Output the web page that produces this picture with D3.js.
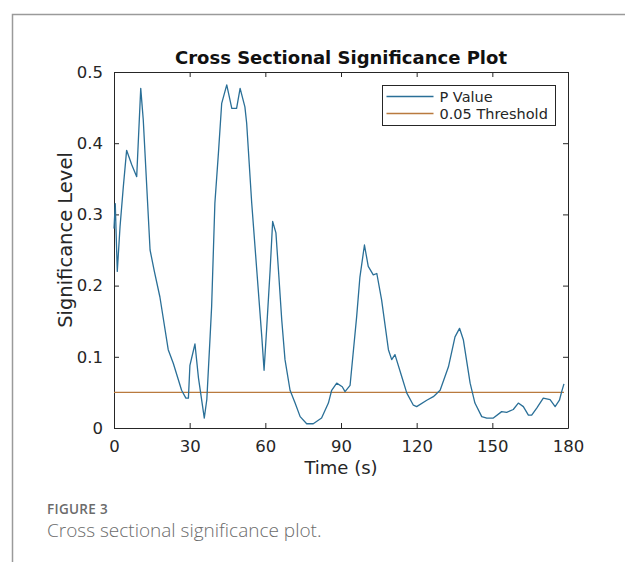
<!DOCTYPE html>
<html>
<head>
<meta charset="utf-8">
<script src="https://cdn.jsdelivr.net/npm/d3@7"></script>
<style>
  body { margin: 0; background: #fff; }
  svg text { font-family: "DejaVu Sans", sans-serif; }
</style>
</head>
<body>
<div id="chart"></div>
<script>
// data
var times = [0, 0.5, 1.3, 2.4, 3.7, 5.0, 7.0, 9.0, 10.6, 11.6, 14.3, 16, 18.2, 21.5, 23.5, 26.8, 28.5, 29.5,
  30.1, 32.1, 33.5, 35.8, 36.8, 38.1, 38.7, 40.0, 41.4, 42.7, 44.7, 46.7, 48.6, 50.0, 51.9, 52.6, 54.6,
  56.6, 58.6, 59.5, 60.5, 61.9, 62.9, 64.2, 65.2, 66.5, 67.8, 69.8, 71.8, 73.8, 76.4, 79, 82.3, 85, 86.3,
  88.3, 90.5, 91.6, 93.6, 96.2, 97.5, 99.3, 100.8, 102.8, 104.2, 106.1, 108.8, 110.1, 111.4, 114.1, 116.1,
  118.7, 120, 124, 126.6, 129.3, 132.6, 135.2, 137, 138.5, 141.2, 143.1, 145.8, 147.8, 150.4, 153.7, 155.7,
  158.3, 160.3, 162.3, 164.3, 165.6, 167.6, 170.2, 172.9, 174.9, 176.6, 177.5, 178.4];
var pValues = [0.28, 0.315, 0.22, 0.283, 0.339, 0.39, 0.37, 0.353, 0.477, 0.433, 0.25, 0.22, 0.184, 0.11, 0.091, 0.053, 0.042, 0.042,
  0.088, 0.118, 0.07, 0.014, 0.04, 0.128, 0.17, 0.316, 0.386, 0.456, 0.482, 0.449, 0.449, 0.477, 0.451, 0.428, 0.316,
  0.222, 0.128, 0.081, 0.138, 0.222, 0.29, 0.274, 0.222, 0.152, 0.096, 0.053, 0.035, 0.016, 0.006, 0.006, 0.014, 0.035, 0.053,
  0.063, 0.058, 0.051, 0.06, 0.156, 0.212, 0.257, 0.227, 0.215, 0.217, 0.18, 0.11, 0.096, 0.103, 0.072, 0.049,
  0.032, 0.03, 0.039, 0.044, 0.053, 0.086, 0.128, 0.14, 0.124, 0.063, 0.035, 0.016, 0.014, 0.014, 0.023, 0.022,
  0.026, 0.035, 0.03, 0.018, 0.018, 0.028, 0.042, 0.04, 0.03, 0.039, 0.051, 0.062];
var threshold = 0.05;
var xTicks = [0, 30, 60, 90, 120, 150, 180];
var yTicks = [0, 0.1, 0.2, 0.3, 0.4, 0.5];
var legendLabels = ["P Value", "0.05 Threshold"];

var svgWidth = 625;
var svgHeight = 562;
var margin = {top: 72, left: 114, right: 57, bottom: 134};
var width = svgWidth - margin.left - margin.right;
var height = svgHeight - margin.top - margin.bottom;

var blue = "#2a6f97";
var orange = "#b97a3e";
var axisColor = "#262626";

var svg = d3.select("#chart")
  .append("svg")
  .attr("width", svgWidth)
  .attr("height", svgHeight);

// page frame
svg.append("path")
  .attr("d", "M12.5,562 L12.5,14.5 L625,14.5")
  .attr("fill", "none")
  .attr("stroke", "#9a9a9a")
  .attr("stroke-width", 1.5);

var chartGroup = svg.append("g")
  .attr("transform", `translate(${margin.left}, ${margin.top})`);

var xScale = d3.scaleLinear().domain([0, 180]).range([0, width]);
var yScale = d3.scaleLinear().domain([0, 0.5]).range([height, 0]);

// axes, ticks inward like matlab
var fmtY = d => d === 0 ? "0" : d3.format(".1f")(d);
var bottomAxis = d3.axisBottom(xScale).tickValues(xTicks).tickSizeInner(-5).tickSizeOuter(0).tickPadding(12);
var topAxis = d3.axisTop(xScale).tickValues(xTicks).tickSizeInner(-5).tickSizeOuter(0).tickFormat("");
var leftAxis = d3.axisLeft(yScale).tickValues(yTicks).tickSizeInner(-5).tickSizeOuter(0).tickPadding(11).tickFormat(fmtY);
var rightAxis = d3.axisRight(yScale).tickValues(yTicks).tickSizeInner(-5).tickSizeOuter(0).tickFormat("");

var axes = [
  chartGroup.append("g").attr("transform", `translate(0, ${height})`).call(bottomAxis),
  chartGroup.append("g").call(topAxis),
  chartGroup.append("g").call(leftAxis),
  chartGroup.append("g").attr("transform", `translate(${width}, 0)`).call(rightAxis)
];
axes.forEach(function(g) {
  g.selectAll("path, line").attr("stroke", axisColor);
  g.selectAll("text").attr("fill", axisColor).style("font-size", "16.5px");
});

// threshold line
chartGroup.append("line")
  .attr("x1", xScale(0))
  .attr("x2", xScale(178.4))
  .attr("y1", yScale(threshold))
  .attr("y2", yScale(threshold))
  .attr("stroke", orange)
  .attr("stroke-width", 1.3);

// p value line
var series = times.map((t, i) => ({t: t, p: pValues[i]}));
var line = d3.line()
  .x(d => xScale(d.t))
  .y(d => yScale(d.p));
chartGroup.append("path")
  .datum(series)
  .attr("d", line)
  .attr("fill", "none")
  .attr("stroke", blue)
  .attr("stroke-width", 1.3)
  .attr("stroke-linejoin", "round");

// legend
var legend = chartGroup.append("g")
  .attr("transform", `translate(${382.5 - margin.left}, ${85.5 - margin.top})`);
legend.append("rect")
  .attr("width", 173)
  .attr("height", 40)
  .attr("fill", "#fff")
  .attr("stroke", axisColor)
  .attr("stroke-width", 1);
legendLabels.forEach(function(lbl, i) {
  var y = 11 + i * 17;
  legend.append("line")
    .attr("x1", 4).attr("x2", 51)
    .attr("y1", y).attr("y2", y)
    .attr("stroke", i === 0 ? blue : orange)
    .attr("stroke-width", 1.3);
  legend.append("text")
    .attr("x", 57)
    .attr("y", y + 5)
    .attr("fill", axisColor)
    .style("font-size", "14.5px")
    .text(lbl);
});

// title and axis labels
svg.append("text")
  .attr("x", margin.left + width / 2)
  .attr("y", 63.5)
  .attr("text-anchor", "middle")
  .attr("fill", "#111")
  .style("font-size", "18px")
  .style("font-weight", "bold")
  .text("Cross Sectional Significance Plot");

svg.append("text")
  .attr("x", margin.left + width / 2)
  .attr("y", 474)
  .attr("text-anchor", "middle")
  .attr("fill", axisColor)
  .style("font-size", "18px")
  .text("Time (s)");

svg.append("text")
  .attr("transform", "rotate(-90)")
  .attr("x", -(margin.top + height / 2) + 10)
  .attr("y", 72)
  .attr("text-anchor", "middle")
  .attr("fill", axisColor)
  .style("font-size", "19.5px")
  .text("Significance Level");

// caption
svg.append("text")
  .attr("x", 47)
  .attr("y", 514)
  .attr("fill", "#6b6b6b")
  .style("font-family", "'Open Sans', sans-serif")
  .style("font-size", "13.5px")
  .style("font-weight", "600")
  .style("letter-spacing", "0.3px")
  .text("FIGURE 3");

svg.append("text")
  .attr("x", 47)
  .attr("y", 537)
  .attr("fill", "#6b6b6b")
  .style("font-family", "'Open Sans', sans-serif")
  .style("font-size", "19px")
  .style("font-weight", "300")
  .text("Cross sectional significance plot.");
</script>
</body>
</html>
